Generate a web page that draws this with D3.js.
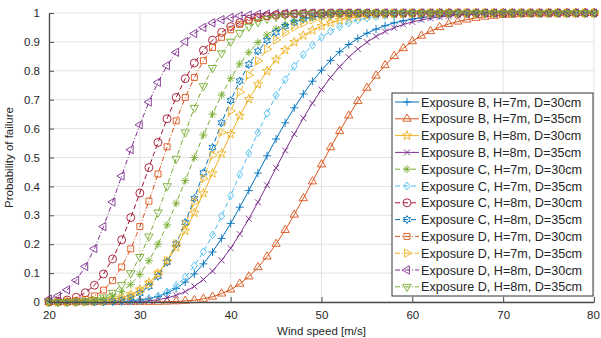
<!DOCTYPE html>
<html>
<head>
<meta charset="utf-8">
<script src="https://cdn.jsdelivr.net/npm/d3@7"></script>
<style>
body { margin: 0; background: #fff; }
text { font-family: "Liberation Sans", Arial, sans-serif; fill: #262626; }
</style>
</head>
<body>
<div id="chart"></div>
<script>
// wind speeds (m/s) where each curve was evaluated
var windSpeed = [20,21,22,23,24,25,26,27,28,29,
                 30,31,32,33,34,35,36,37,38,39,
                 40,41,42,43,44,45,46,47,48,49,
                 50,51,52,53,54,55,56,57,58,59,
                 60,61,62,63,64,65,66,67,68,69,
                 70,71,72,73,74,75,76,77,78,79,80];

// probability of failure
var pB7_30 = [0,0,0,0,0,0,0,0.001,0.002,0.003,
  0.006,0.012,0.019,0.031,0.047,0.069,0.097,0.132,0.173,0.220,
  0.272,0.328,0.386,0.446,0.506,0.564,0.620,0.672,0.720,0.764,
  0.802,0.836,0.866,0.891,0.912,0.930,0.944,0.956,0.966,0.973,
  0.979,0.984,0.988,0.991,0.993,0.995,0.996,0.997,0.998,0.998,
  0.999,0.999,0.999,1,1,1,1,1,1,1,1];
var pB7_35 = [0,0,0,0,0,0,0,0,0,0,
  0,0,0,0.001,0.002,0.004,0.006,0.011,0.018,0.029,
  0.043,0.063,0.088,0.120,0.157,0.201,0.249,0.302,0.359,0.417,
  0.476,0.535,0.591,0.645,0.695,0.741,0.783,0.819,0.851,0.878,
  0.902,0.921,0.937,0.951,0.962,0.970,0.977,0.983,0.987,0.990,
  0.993,0.994,0.996,0.997,0.998,0.998,0.999,0.999,0.999,1,1];
var pB8_30 = [0,0,0,0,0.001,0.002,0.004,0.008,0.015,0.026,
  0.043,0.067,0.099,0.140,0.189,0.246,0.309,0.376,0.445,0.514,
  0.581,0.644,0.702,0.753,0.799,0.839,0.872,0.899,0.922,0.940,
  0.955,0.966,0.975,0.981,0.986,0.990,0.993,0.995,0.996,0.997,
  0.998,0.999,0.999,1,1,1,1,1,1,1,
  1,1,1,1,1,1,1,1,1,1,1];
var pB8_35 = [0,0,0,0,0,0,0,0,0,0.001,
  0.002,0.004,0.008,0.014,0.023,0.036,0.054,0.078,0.107,0.144,
  0.186,0.235,0.288,0.345,0.404,0.464,0.524,0.581,0.636,0.688,
  0.735,0.777,0.814,0.847,0.875,0.899,0.919,0.936,0.949,0.960,
  0.969,0.976,0.982,0.986,0.989,0.992,0.994,0.996,0.997,0.998,
  0.998,0.999,0.999,0.999,1,1,1,1,1,1,1];
var pC7_30 = [0,0,0,0.001,0.002,0.005,0.010,0.020,0.036,0.061,
  0.096,0.143,0.200,0.267,0.342,0.420,0.500,0.578,0.650,0.716,
  0.774,0.824,0.864,0.898,0.924,0.945,0.960,0.972,0.980,0.986,
  0.991,0.994,0.996,0.997,0.998,0.999,0.999,1,1,1,
  1,1,1,1,1,1,1,1,1,1,
  1,1,1,1,1,1,1,1,1,1,1];
var pC7_35 = [0,0,0,0,0,0,0,0,0.001,0.003,
  0.005,0.011,0.020,0.035,0.056,0.086,0.125,0.174,0.232,0.297,
  0.368,0.441,0.515,0.586,0.653,0.715,0.769,0.816,0.856,0.889,
  0.916,0.937,0.953,0.966,0.976,0.983,0.988,0.991,0.994,0.996,
  0.997,0.998,0.999,0.999,1,1,1,1,1,1,
  1,1,1,1,1,1,1,1,1,1,1];
var pC8_30 = [0.001,0.003,0.007,0.016,0.032,0.058,0.097,0.149,0.215,0.292,
  0.377,0.465,0.552,0.634,0.708,0.773,0.827,0.871,0.906,0.933,
  0.953,0.967,0.978,0.985,0.990,0.993,0.996,0.997,0.998,0.999,
  0.999,1,1,1,1,1,1,1,1,1,
  1,1,1,1,1,1,1,1,1,1,
  1,1,1,1,1,1,1,1,1,1,1];
var pC8_35 = [0,0,0,0,0,0,0.001,0.003,0.007,0.015,
  0.030,0.054,0.089,0.138,0.201,0.275,0.358,0.447,0.535,0.620,
  0.697,0.765,0.822,0.868,0.905,0.933,0.954,0.968,0.979,0.986,
  0.991,0.994,0.997,0.998,0.999,0.999,1,1,1,1,
  1,1,1,1,1,1,1,1,1,1,
  1,1,1,1,1,1,1,1,1,1,1];
var pD7_30 = [0,0,0.001,0.004,0.009,0.021,0.041,0.074,0.121,0.184,
  0.261,0.349,0.443,0.537,0.627,0.708,0.777,0.835,0.881,0.916,
  0.942,0.961,0.974,0.983,0.989,0.993,0.996,0.998,0.999,0.999,
  1,1,1,1,1,1,1,1,1,1,
  1,1,1,1,1,1,1,1,1,1,
  1,1,1,1,1,1,1,1,1,1,1];
var pD7_35 = [0,0,0,0,0,0.001,0.002,0.005,0.010,0.020,
  0.036,0.061,0.096,0.143,0.202,0.270,0.346,0.427,0.508,0.587,
  0.661,0.727,0.785,0.834,0.875,0.907,0.932,0.951,0.965,0.976,
  0.983,0.989,0.992,0.995,0.997,0.998,0.999,0.999,1,1,
  1,1,1,1,1,1,1,1,1,1,
  1,1,1,1,1,1,1,1,1,1,1];
var pD8_30 = [0.010,0.021,0.042,0.075,0.123,0.185,0.261,0.346,0.436,0.527,
  0.613,0.692,0.760,0.818,0.864,0.901,0.929,0.950,0.966,0.977,
  0.984,0.990,0.993,0.996,0.997,0.998,0.999,0.999,1,1,
  1,1,1,1,1,1,1,1,1,1,
  1,1,1,1,1,1,1,1,1,1,
  1,1,1,1,1,1,1,1,1,1,1];
var pD8_35 = [0,0,0,0.001,0.003,0.007,0.016,0.032,0.059,0.100,
  0.156,0.227,0.310,0.401,0.496,0.587,0.672,0.747,0.810,0.861,
  0.901,0.931,0.953,0.969,0.980,0.987,0.992,0.995,0.997,0.998,
  0.999,0.999,1,1,1,1,1,1,1,1,
  1,1,1,1,1,1,1,1,1,1,
  1,1,1,1,1,1,1,1,1,1,1];

var seriesNames = ["Exposure B, H=7m, D=30cm", "Exposure B, H=7m, D=35cm",
  "Exposure B, H=8m, D=30cm", "Exposure B, H=8m, D=35cm",
  "Exposure C, H=7m, D=30cm", "Exposure C, H=7m, D=35cm",
  "Exposure C, H=8m, D=30cm", "Exposure C, H=8m, D=35cm",
  "Exposure D, H=7m, D=30cm", "Exposure D, H=7m, D=35cm",
  "Exposure D, H=8m, D=30cm", "Exposure D, H=8m, D=35cm"];
var seriesValues = [pB7_30, pB7_35, pB8_30, pB8_35, pC7_30, pC7_35,
  pC8_30, pC8_35, pD7_30, pD7_35, pD8_30, pD8_35];

var xTicks = [20, 30, 40, 50, 60, 70, 80];
var yTicks = [0, 0.1, 0.2, 0.3, 0.4, 0.5, 0.6, 0.7, 0.8, 0.9, 1];

// matlab style colors, markers and line styles
var colors = ["#0072BD", "#D95319", "#EDB120", "#7E2F8E", "#77AC30", "#4DBEEE",
  "#A2142F", "#0072BD", "#D95319", "#EDB120", "#7E2F8E", "#77AC30"];
var markers = ["plus", "tri-up", "pentagram", "x", "asterisk", "diamond",
  "circle", "hexagram", "square", "tri-right", "tri-left", "tri-down"];
var dashes = [null, null, null, null, "5,3", "5,3", "5,3", "5,3",
  "5,2,1,2", "5,2,1,2", "5,2,1,2", "5,2,1,2"];

// set the dimensions and margins of the graph
var margin = {top: 13, right: 7, bottom: 36, left: 49},
    width = 601 - margin.left - margin.right,
    height = 338 - margin.top - margin.bottom;

var x = d3.scaleLinear().domain([20, 80]).range([0, width]);
var y = d3.scaleLinear().domain([0, 1]).range([height, 0]);

var svg = d3.select("#chart").append("svg")
    .attr("width", 601)
    .attr("height", 338);
var g = svg.append("g")
    .attr("transform", "translate(" + margin.left + "," + margin.top + ")");

// marker shapes
function star(points, r, inner) {
  var p = [];
  for (var i = 0; i < points * 2; i++) {
    var a = -Math.PI / 2 + i * Math.PI / points;
    var rr = i % 2 == 0 ? r : r * inner;
    p.push([rr * Math.cos(a), rr * Math.sin(a)]);
  }
  return "M" + p.join("L") + "Z";
}
function tri(r, rot) {
  var p = [];
  for (var i = 0; i < 3; i++) {
    var a = (rot - 90 + i * 120) * Math.PI / 180;
    p.push([r * Math.cos(a), r * Math.sin(a)]);
  }
  return "M" + p.join("L") + "Z";
}
function markerPath(type) {
  var r = 4;
  switch (type) {
    case "plus": return "M" + (-r) + ",0H" + r + "M0," + (-r) + "V" + r;
    case "x": var s = r * 0.75; return "M" + (-s) + "," + (-s) + "L" + s + "," + s + "M" + (-s) + "," + s + "L" + s + "," + (-s);
    case "asterisk": var t = r * 0.72;
      return "M" + (-r) + ",0H" + r + "M0," + (-r) + "V" + r +
        "M" + (-t) + "," + (-t) + "L" + t + "," + t + "M" + (-t) + "," + t + "L" + t + "," + (-t);
    case "tri-up": return tri(r + 0.8, 0);
    case "tri-down": return tri(r + 0.8, 180);
    case "tri-right": return tri(r + 0.8, 90);
    case "tri-left": return tri(r + 0.8, 270);
    case "square": return "M-3,-3H3V3H-3Z";
    case "diamond": return "M0," + (-r) + "L3,0L0," + r + "L-3,0Z";
    case "circle": return d3.symbol(d3.symbolCircle, 50)();
    case "pentagram": return star(5, r + 0.8, 0.42);
    case "hexagram": return star(6, r, 0.55);
  }
}

// gridlines
g.append("g").selectAll("line").data(xTicks).enter().append("line")
    .attr("x1", function(d) { return x(d); }).attr("x2", function(d) { return x(d); })
    .attr("y1", 0).attr("y2", height)
    .attr("stroke", "#e3e3e3");
g.append("g").selectAll("line").data(yTicks).enter().append("line")
    .attr("y1", function(d) { return y(d); }).attr("y2", function(d) { return y(d); })
    .attr("x1", 0).attr("x2", width)
    .attr("stroke", "#e3e3e3");

// draw the curves
var line = d3.line()
    .x(function(d) { return x(d[0]); })
    .y(function(d) { return y(d[1]); });

seriesValues.forEach(function(vals, i) {
  var pts = windSpeed.map(function(w, j) { return [w, vals[j]]; });
  g.append("path")
      .datum(pts)
      .attr("fill", "none")
      .attr("stroke", colors[i])
      .attr("stroke-width", 1)
      .attr("stroke-dasharray", dashes[i])
      .attr("d", line);
  g.append("g").selectAll("path").data(pts).enter().append("path")
      .attr("transform", function(d) { return "translate(" + x(d[0]) + "," + y(d[1]) + ")"; })
      .attr("d", markerPath(markers[i]))
      .attr("fill", "none")
      .attr("stroke", colors[i])
      .attr("stroke-width", 0.9);
});

// axes
var xAxis = g.append("g")
    .attr("transform", "translate(0," + height + ")")
    .call(d3.axisBottom(x).tickValues(xTicks).tickSizeInner(-5).tickSizeOuter(0).tickPadding(9));
var yAxis = g.append("g")
    .call(d3.axisLeft(y).tickValues(yTicks).tickFormat(d3.format("")).tickSizeInner(-5).tickSizeOuter(0).tickPadding(9));
[xAxis, yAxis].forEach(function(a) {
  a.select(".domain").attr("stroke", "#4d4d4d").attr("stroke-width", 1.3);
  a.selectAll(".tick line").attr("stroke", "#4d4d4d");
  a.selectAll(".tick text").style("font-size", "11.5px").attr("fill", "#262626")
    .style("font-family", "Liberation Sans, Arial, sans-serif");
});
// keep the last x label inside the picture
xAxis.selectAll(".tick text").filter(function(d) { return d == 80; }).attr("dx", "-1");

// axis labels
g.append("text")
    .attr("x", width / 2)
    .attr("y", height + 33)
    .style("text-anchor", "middle")
    .style("font-size", "11.5px")
    .text("Wind speed [m/s]");
g.append("text")
    .attr("transform", "rotate(-90)")
    .attr("x", -height / 2)
    .attr("y", -36)
    .style("text-anchor", "middle")
    .style("font-size", "11.5px")
    .text("Probability of failure");

// legend
var legend = svg.append("g").attr("transform", "translate(392,93)");
legend.append("rect")
    .attr("width", 201).attr("height", 203)
    .attr("fill", "#fff").attr("stroke", "#333").attr("stroke-width", 1);
seriesNames.forEach(function(name, i) {
  var row = legend.append("g").attr("transform", "translate(0," + (9 + i * 16.8) + ")");
  row.append("line")
      .attr("x1", 3).attr("x2", 27)
      .attr("stroke", colors[i]).attr("stroke-width", 1)
      .attr("stroke-dasharray", dashes[i]);
  row.append("path")
      .attr("transform", "translate(15,0)")
      .attr("d", markerPath(markers[i]))
      .attr("fill", "none").attr("stroke", colors[i]).attr("stroke-width", 0.9);
  row.append("text")
      .attr("x", 29).attr("y", 4.5)
      .style("font-size", "12.6px")
      .text(name);
});
</script>
</body>
</html>
